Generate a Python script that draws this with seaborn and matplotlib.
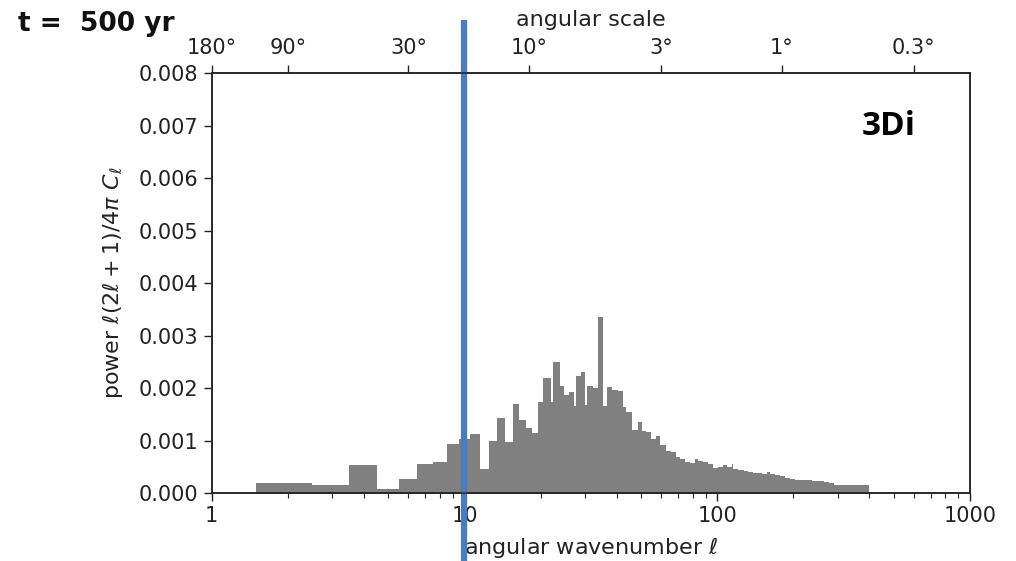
import numpy as np
import pandas as pd
import matplotlib
matplotlib.use("Agg")
import matplotlib.pyplot as plt
import matplotlib.ticker as mticker
import seaborn as sns

# ---- data ----
ell_edges = [1.5, 2.5, 3.5, 4.5, 5.5, 6.5, 7.5, 8.5, 9.5, 10.5, 11.5, 12.5, 13.5, 14.5,
             15.5, 16.5, 17.5, 18.5, 19.5, 20.5, 21.9, 22.4, 23.9, 24.85, 25.8, 27.1,
             27.6, 28.9, 30.0, 30.6, 32.2, 33.7, 35.2, 36.7, 38.4, 40.5, 42.5, 43.7,
             46.0, 48.5, 50.5, 52.4, 54.9, 57.4, 59.2, 62.9, 65.9, 68.5, 71.1, 74.4,
             77.9, 81.5, 84.1, 88.0, 92.1, 96.4, 100.9, 105.6, 108.9, 113.9, 115.7,
             121.2, 128.0, 132.7, 139.0, 145.4, 149.9, 156.9, 161.7, 169.3, 177.2,
             185.5, 194.2, 203.3, 236.7, 263.4, 275.7, 288.6, 397.2]
power = [0.00019, 0.00015, 0.00054, 0.00008, 0.00028, 0.00056, 0.00060, 0.00093,
         0.00103, 0.00112, 0.00046, 0.00100, 0.00144, 0.00098, 0.00170, 0.00139,
         0.00125, 0.00115, 0.00174,
         0.00220, 0.00173, 0.00250, 0.00205, 0.00188, 0.00193, 0.00167, 0.00223,
         0.00230, 0.00168, 0.00205, 0.00201, 0.00336, 0.00167, 0.00202, 0.00197,
         0.00194, 0.00165, 0.00155, 0.00120, 0.00136, 0.00118, 0.00117, 0.00103,
         0.00109, 0.00091, 0.00080, 0.00079, 0.00070, 0.00066, 0.00060, 0.00057,
         0.00066, 0.00062, 0.00060, 0.00056, 0.00049, 0.00050, 0.00054, 0.00050,
         0.00055, 0.00047, 0.00045, 0.00043, 0.00041, 0.00038, 0.00039, 0.00037,
         0.00041, 0.00037, 0.00035, 0.00032, 0.00030, 0.00027, 0.00026, 0.00024,
         0.00022, 0.00020, 0.00016]
x_ticks = [1, 10, 100, 1000]
x_ticklabels = ["1", "10", "100", "1000"]
y_ticks = [0.000, 0.001, 0.002, 0.003, 0.004, 0.005, 0.006, 0.007, 0.008]
angles_deg = [180, 90, 30, 10, 3, 1, 0.3]
angle_labels = ["180°", "90°", "30°", "10°", "3°", "1°", "0.3°"]
marker_ell = 10
title_text = "t =  500 yr"
panel_tag = "3Di"

sns.set_style("ticks")
plt.rcParams["font.family"] = ["DejaVu Sans"]
plt.rcParams["mathtext.fontset"] = "dejavusans"

edges = np.array(ell_edges)
centers = np.sqrt(edges[:-1] * edges[1:])
df = pd.DataFrame({"ell": centers, "power": power})

fig = plt.figure(figsize=(10.16, 5.61), dpi=100)
ax = fig.add_axes([0.2084, 0.1207, 0.7463, 0.7492])

sns.histplot(data=df, x="ell", weights="power", bins=list(ell_edges), element="step",
             fill=True, color="#808080", alpha=1.0, linewidth=0, ax=ax)

ax.set_xscale("log")
ax.set_xlim(1, 1000)
ax.set_ylim(0, 0.008)
ax.xaxis.set_major_locator(mticker.FixedLocator(x_ticks))
ax.xaxis.set_major_formatter(mticker.FixedFormatter(x_ticklabels))
ax.xaxis.set_minor_locator(mticker.LogLocator(base=10, subs=np.arange(2, 10)))
ax.xaxis.set_minor_formatter(mticker.NullFormatter())
ax.set_yticks(y_ticks)
ax.yaxis.set_major_formatter(mticker.FormatStrFormatter("%.3f"))
ax.tick_params(axis="both", which="major", labelsize=15, length=6, width=1,
               colors="#222222", direction="out")
ax.tick_params(axis="x", which="minor", length=3.5, width=0.8, color="#222222")
for s in ax.spines.values():
    s.set_visible(True)
    s.set_color("#222222")
    s.set_linewidth(1.1)

ax.set_xlabel(r"angular wavenumber $\ell$", fontsize=16, color="#222222", labelpad=6)
ax.set_ylabel(r"power $\ell(2\ell + 1)/4\pi\ C_\ell$", fontsize=16, color="#222222",
              labelpad=10)

ax2 = ax.twiny()
ax2.set_xscale("log")
ax2.set_xlim(1, 1000)
ax2.xaxis.set_major_locator(mticker.FixedLocator([180.0 / a for a in angles_deg]))
ax2.xaxis.set_major_formatter(mticker.FixedFormatter(angle_labels))
ax2.xaxis.set_minor_locator(mticker.NullLocator())
ax2.tick_params(axis="x", which="major", labelsize=15, length=6, width=1,
                colors="#222222", direction="out", pad=4.5)
ax2.set_xlabel("angular scale", fontsize=16, color="#222222", labelpad=9)
for s in ax2.spines.values():
    s.set_color("#222222")
    s.set_linewidth(1.1)

ax.text(0.857, 0.852, panel_tag, transform=ax.transAxes, fontsize=24,
        fontweight="bold", family="Open Sans", color="black", ha="left", va="baseline")

fig.text(0.018, 0.945, title_text, fontsize=19, fontweight="bold", color="#111111",
         ha="left", va="baseline")

ax.axvline(marker_ell, ymin=-0.165, ymax=1.126, clip_on=False, color="#4A7DBE",
           linewidth=4.5, solid_capstyle="butt", zorder=10)

fig.savefig("out.png", dpi=100)
